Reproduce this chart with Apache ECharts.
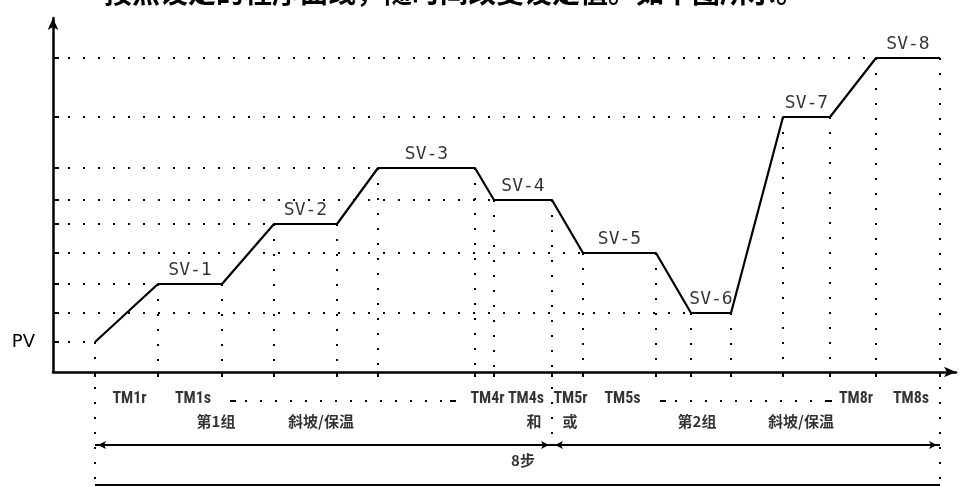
<!DOCTYPE html>
<html>
<head>
<meta charset="utf-8">
<script src="https://cdn.jsdelivr.net/npm/echarts@6/dist/echarts.min.js"></script>
<style>
html,body{margin:0;padding:0;background:#fff;}
#chart{width:964px;height:487px;}
</style>
</head>
<body>
<div id="chart"></div>
<script>
// ---- data ----
const timePoints    = [4.2, 10.5, 16.9, 22.1, 28.4, 32.5, 42.2, 44.1, 49.9, 53.0, 60.3, 63.8, 67.8, 73.0, 77.7, 82.3, 88.7];
const profileValues = [3.0, 8.8, 8.8, 14.8, 14.8, 20.4, 20.4, 17.2, 17.2, 11.9, 11.9, 5.9, 5.9, 25.5, 25.5, 31.4, 31.4];
const pvLabel = 'PV';
const setpointNames = ['SV-1', 'SV-2', 'SV-3', 'SV-4', 'SV-5', 'SV-6', 'SV-7', 'SV-8'];
const timeLabels = ['TM1r', 'TM1s', 'TM4r', 'TM4s', 'TM5r', 'TM5s', 'TM8r', 'TM8s'];
const timeLabelSegments = [0, 1, 6, 7, 8, 9, 14, 15];
const groupTexts = ['第1组', '斜坡/保温', '和', '或', '第2组', '斜坡/保温'];
const groupTextX = [16.3, 26.8, 48.1, 51.7, 64.4, 74.8];
const stepsText = '8步';
const titleText = '按照设定的程序曲线，随时间改变设定值。如下图所示。';

// ---- layout constants (styles / positions) ----
const ROW_TM = -2.7, ROW_GROUP = -4.9, ROW_SPAN = -7.3, ROW_STEPS = -8.8, ROW_BOTTOM = -11.3;
const DOT = [2, 13];
const black = '#000';

const profileData = timePoints.map((t, i) => [t, profileValues[i]]);

function seg(p1, p2, dotted, width) {
  return {
    type: 'line', data: [p1, p2], symbol: 'none', clip: false, silent: true,
    animation: false, z: dotted ? 1 : 3,
    lineStyle: { color: black, width: width || 2, type: dotted ? DOT : 'solid', cap: 'butt' }
  };
}
function span(a, b, y) {
  return {
    type: 'line', clip: false, silent: true, animation: false, z: 4,
    showSymbol: true, showAllSymbol: true, symbol: 'arrow', symbolSize: [6, 8],
    itemStyle: { color: black },
    lineStyle: { color: black, width: 2 },
    data: [
      { value: [a, y], symbolRotate: 90, symbolOffset: [3, 0] },
      { value: [b, y], symbolRotate: -90, symbolOffset: [-3, 0] }
    ]
  };
}

const series = [];
// horizontal dotted level lines: from axis to first time that level is reached
const seenLevels = new Set();
profileValues.forEach((v, i) => {
  if (seenLevels.has(v)) return;
  seenLevels.add(v);
  series.push(seg([0, v], [timePoints[i], v], true));
});
// vertical dotted lines from every breakpoint down to the time axis
timePoints.forEach((t, i) => series.push(seg([t, profileValues[i]], [t, 0], true)));
// extensions below the axis
const first = timePoints[0], last = timePoints[timePoints.length - 1], mid = timePoints[8];
series.push(seg([first, 0], [first, ROW_BOTTOM], true));
series.push(seg([mid, 0], [mid, ROW_SPAN], true));
series.push(seg([last, 0], [last, ROW_BOTTOM], true));
// dotted "- . . . -" runs in TM row
const runs = [[17.7, 40.3], [60.7, 77.9]];
runs.forEach(r => {
  series.push(seg([r[0], ROW_TM - 0.2], [r[1], ROW_TM - 0.2], true));
  series.push(seg([r[0], ROW_TM - 0.2], [r[0] + 0.6, ROW_TM - 0.2], false));
  series.push(seg([r[1] - 0.6, ROW_TM - 0.2], [r[1], ROW_TM - 0.2], false));
});
// spans with arrows, and bottom line
series.push(span(first, mid, ROW_SPAN));
series.push(span(mid, last, ROW_SPAN));
series.push(seg([first, ROW_BOTTOM], [last, ROW_BOTTOM], false));

// profile
series.push({
  type: 'line', data: profileData, symbol: 'none', z: 5, animation: false,
  lineStyle: { color: black, width: 2.2 }
});

// setpoint labels above each soak plateau
const svData = setpointNames.map((n, k) => {
  const a = timePoints[2 * k + 1], b = timePoints[2 * k + 2];
  return { name: n, value: [(a + b) / 2, profileValues[2 * k + 1]] };
});
series.push({
  type: 'scatter', data: svData, symbolSize: 1, itemStyle: { color: 'rgba(0,0,0,0)' },
  clip: false, silent: true, animation: false, z: 6,
  label: { show: true, position: 'top', distance: 4, formatter: p => p.name,
    color: black, fontFamily: 'DejaVu Sans Mono', fontSize: 18 }
});

// TM labels under the axis at segment middles
const tmData = timeLabels.map((n, k) => {
  const s = timeLabelSegments[k];
  return { name: n, value: [(timePoints[s] + timePoints[s + 1]) / 2 + 0.3, ROW_TM] };
});
series.push({
  type: 'scatter', data: tmData, symbolSize: 1, itemStyle: { color: 'rgba(0,0,0,0)' },
  clip: false, silent: true, animation: false,
  label: { show: true, position: 'inside', formatter: p => p.name,
    color: black, fontFamily: '"Liberation Sans Narrow", "Roboto Condensed", "DejaVu Sans Condensed", "Liberation Sans"',
    fontWeight: 'bold', fontSize: 16 }
});

// group text row + steps text
const grpData = groupTexts.map((n, k) => ({ name: n, value: [groupTextX[k], ROW_GROUP] }));
grpData.push({ name: stepsText, value: [47.0, ROW_STEPS] });
series.push({
  type: 'scatter', data: grpData, symbolSize: 1, itemStyle: { color: 'rgba(0,0,0,0)' },
  clip: false, silent: true, animation: false,
  label: { show: true, position: 'inside', formatter: p => p.name,
    color: black, fontFamily: 'Noto Sans CJK SC', fontWeight: 'bold', fontSize: 15 }
});

const levelTicks = Array.from(seenLevels);

const chart = echarts.init(document.getElementById('chart'), null, { renderer: 'canvas' });
chart.setOption({
  animation: false,
  backgroundColor: '#fff',
  grid: { left: 53, right: 8, top: 18, bottom: 115, containLabel: false },
  xAxis: {
    type: 'value', min: 0, max: 90.3,
    axisLine: { show: true, onZero: false, symbol: ['none', 'arrow'], symbolSize: [8, 12],
      lineStyle: { color: black, width: 2.5 } },
    axisTick: { show: true, customValues: timePoints, inside: false, length: 5,
      lineStyle: { color: black, width: 2 } },
    axisLabel: { show: false },
    splitLine: { show: false }
  },
  yAxis: {
    type: 'value', min: 0, max: 35.4,
    axisLine: { show: true, onZero: false, symbol: ['none', 'arrow'], symbolSize: [8, 12],
      lineStyle: { color: black, width: 2.5 } },
    axisTick: { show: true, customValues: levelTicks, inside: true, length: 6,
      lineStyle: { color: black, width: 2 } },
    axisLabel: { show: true, customValues: [profileValues[0]], formatter: () => pvLabel,
      margin: 18, color: black, fontFamily: 'DejaVu Sans', fontSize: 18 },
    splitLine: { show: false }
  },
  graphic: [{
    type: 'text', left: 104, top: -22, silent: true,
    style: { text: titleText, fill: black, font: 'bold 28px "Noto Sans CJK SC"' }
  }],
  series: series
});
</script>
</body>
</html>
